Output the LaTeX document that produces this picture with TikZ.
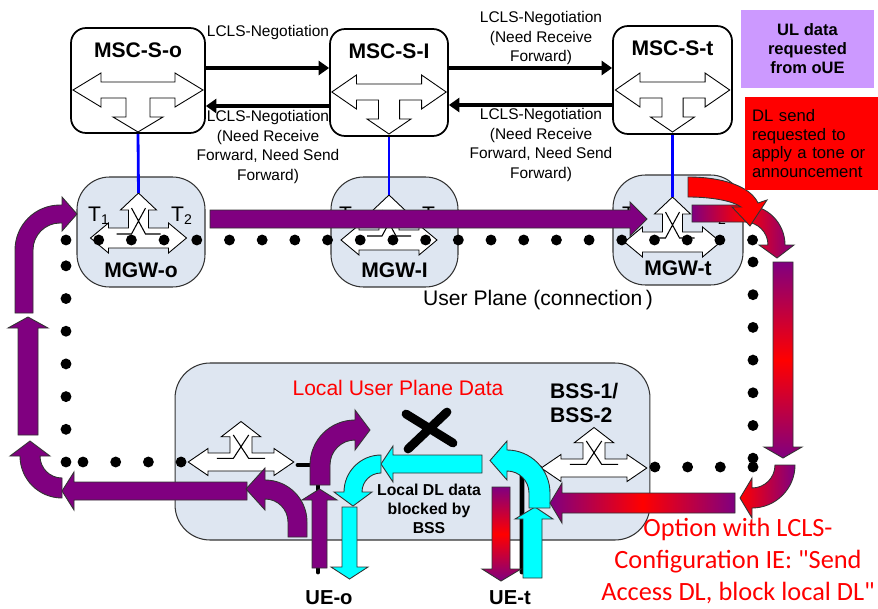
\documentclass[tikz,border=0pt]{standalone}
\usepackage{fontspec}
\setmainfont{Liberation Sans}
\newfontfamily\calibrifont{Carlito}
\usepackage{tikz}
\usetikzlibrary{positioning, calc, arrows.meta}
\definecolor{mgwfill}{RGB}{222,230,241}
\definecolor{upurple}{RGB}{128,0,128}
\definecolor{lilac}{RGB}{204,153,255}
\definecolor{dlcyan}{RGB}{0,255,255}
\definecolor{arrline}{RGB}{50,50,50}

\begin{document}
\begin{tikzpicture}[x=0.02cm, y=-0.02cm,
    mscbox/.style={rectangle, draw, line width=1pt, rounded corners=0.3cm, fill=white},
    mgwbox/.style={rectangle, draw=black!80, line width=0.6pt, rounded corners=0.65cm, fill=mgwfill},
    box_lbl/.style={font=\bfseries\fontsize{12}{14}\selectfont},
    neg_arrow/.style={-{Triangle[length=6pt,width=8pt]}, line width=2pt},
    neg_lbl/.style={font=\fontsize{8.8}{11.2}\selectfont, align=center, inner sep=0pt},
    ctrl_line/.style={blue, line width=1.6pt},
    upl_dots/.style={line width=6.2pt, line cap=round, dash pattern=on 0pt off 0.654cm},
    ue_line/.style={line width=2.8pt, line cap=round},
    t_lbl/.style={font=\fontsize{12}{14}\selectfont, inner sep=0pt},
    fat/.style={draw=arrline, line width=0.5pt},
    ul_arrow/.style={fat, fill=upurple},
    dl_arrow/.style={fat, fill=dlcyan},
    hgrad/.style={fat, left color=upurple, right color=upurple, middle color=red},
    vgrad/.style={fat, top color=upurple, bottom color=upurple, middle color=red},
    mscsw/.pic={
        \draw[fill=white, line width=0.5pt] (-65,0) -- (-37,-17) -- (-37,-8) -- (37,-8) -- (37,-17) -- (65,0) -- (37,17) -- (37,8) -- (12,8) -- (12,27) -- (25,27) -- (0,42) -- (-25,27) -- (-12,27) -- (-12,8) -- (-37,8) -- (-37,17) -- cycle;
    },
    mgwsw/.pic={
        \draw[fill=white, line width=0.5pt] (-48,0) -- (-30,-15) -- (-30,-10) -- (-10,-10) -- (-10,-28) -- (-18,-28) -- (0,-45) -- (18,-28) -- (10,-28) -- (10,-10) -- (30,-10) -- (30,-15) -- (48,0) -- (30,15) -- (30,10) -- (-30,10) -- (-30,15) -- cycle;
        \draw[line width=0.6pt] (-22,-4) -- (-7,-4) -- (7,-30) (22,-4) -- (7,-4) -- (-7,-30);
    }
]
    \useasboundingbox (0,0) rectangle (878,608);

    % Media gateways and BSS
    \node[mgwbox, minimum width=2.56cm, minimum height=2.2cm] (mgwo) at (141,232) {};
    \node[mgwbox, minimum width=2.54cm, minimum height=2.2cm] (mgwi) at (394.5,232) {};
    \node[mgwbox, minimum width=2.6cm, minimum height=2.2cm] (mgwt) at (678,230) {};
    \node[mgwbox, rounded corners=0.7cm, minimum width=9.5cm, minimum height=3.54cm] (bss) at (412.5,451.5) {};

    % Switches
    \pic at (138.5,238) {mgwsw};
    \pic at (389,240) {mgwsw};
    \pic at (672.5,242) {mgwsw};
    \pic[xscale=1.1, yscale=0.9] at (241,462) {mgwsw};
    \pic[xscale=1.1, yscale=0.9] at (594,468) {mgwsw};
    \coordinate (mgwotip) at (138.5,193);
    \coordinate (mgwitip) at (389,195);
    \coordinate (mgwttip) at (672.5,197);

    % UE connections
    \coordinate (bssl) at (298,465);
    \coordinate (bssr) at (540,468);
    \coordinate (ueo) at (318,572);
    \coordinate (uet) at (522,572);
    \draw[ue_line] (bssl) -- (ueo |- bssl) -- (ueo);
    \draw[ue_line] (bssr) -- (522,472) -- (uet);

    % User plane
    \draw[upl_dots] (66,240) -- (753.5,240);
    \draw[upl_dots] (66,462) -- (66,265.5);
    \draw[upl_dots] (753,262) -- (753,458.5);
    \draw[upl_dots] (753,467) -- (654.5,467);
    \draw[upl_dots] (83,462) -- (181.5,462);

    % Termination labels
    \node[t_lbl] (t1o) at (99,216) {T\textsubscript{1}};
    \node[t_lbl] (t2o) at (182,216) {T\textsubscript{2}};
    \node[t_lbl] (t1i) at (350,216) {T\textsubscript{1}};
    \node[t_lbl] (t2i) at (433,216) {T\textsubscript{2}};
    \node[t_lbl] (t1t) at (633,216) {T\textsubscript{1}};
    \node[t_lbl] (t2t) at (716,216) {T\textsubscript{2}};

    % MSC servers
    \node[mscbox, minimum width=2.68cm, minimum height=2.1cm] (msco) at (138,80.5) {};
    \node[mscbox, minimum width=2.36cm, minimum height=2.14cm] (msci) at (389,82.5) {};
    \node[mscbox, minimum width=2.38cm, minimum height=2.16cm] (msct) at (672.5,80) {};
    \pic at (138,90) {mscsw};
    \pic[xscale=0.88] at (389,92) {mscsw};
    \pic[xscale=0.88] at (672.5,90) {mscsw};
    \node[box_lbl, anchor=north] (mscolbl) at ([yshift=-5.4pt]msco.north) {MSC-S-o};
    \node[box_lbl, anchor=north] (mscilbl) at ([yshift=-5.4pt]msci.north) {MSC-S-I};
    \node[box_lbl, anchor=north] (msctlbl) at ([yshift=-5.4pt]msct.north) {MSC-S-t};

    % Control links
    \draw[ctrl_line] (msco.south) -- (mgwotip);
    \draw[ctrl_line] (msci.south) -- (mgwitip);
    \draw[ctrl_line] (msct.south) -- (mgwttip);

    % LCLS negotiation
    \draw[neg_arrow] (msco.east |- 0,68) -- (msci.west |- 0,68);
    \draw[neg_arrow] (msci.west |- 0,106) -- (msco.east |- 0,106);
    \draw[neg_arrow] (msci.east |- 0,68) -- (msct.west |- 0,68);
    \draw[neg_arrow] (msct.west |- 0,105) -- (msci.east |- 0,105);
    \node[neg_lbl] (neg1) at (268,33) {LCLS-Negotiation};
    \node[neg_lbl] (neg2) at (268,147) {LCLS-Negotiation\\(Need Receive\\Forward, Need Send\\Forward)};
    \node[neg_lbl] (neg3) at (541,38) {LCLS-Negotiation\\(Need Receive\\Forward)};
    \node[neg_lbl] (neg4) at (541,145) {LCLS-Negotiation\\(Need Receive\\Forward, Need Send\\Forward)};

    % Uplink (purple)
    \draw[ul_arrow] (210,210) -- (630,210) -- (630,202) -- (647,219) -- (630,236) -- (630,228) -- (210,228) -- cycle;
    \draw[ul_arrow] (15,313) -- (15,250) .. controls (15,225.1) and (35.1,205) .. (60,205) -- (62,205) -- (62,197) -- (77,214) -- (62,231) -- (62,223) -- (60,223) .. controls (45.1,223) and (33,235.1) .. (33,250) -- (33,313) -- cycle;
    \draw[ul_arrow] (18,435) -- (18,328) -- (8,328) -- (28,317) -- (48,328) -- (38,328) -- (38,435) -- cycle;
    \draw[ul_arrow] (247,482) -- (74,482) -- (74,472) -- (62,491) -- (74,510) -- (74,500) -- (247,500) -- cycle;
    \draw[ul_arrow] (62,498) .. controls (38.8,498) and (20,479.2) .. (20,456) -- (10,456) -- (30,441) -- (50,456) -- (40,456) .. controls (40,468.2) and (49.8,478) .. (62,478) -- cycle;
    \draw[ul_arrow] (307,537) -- (307,522) .. controls (307,498.8) and (288.2,480) .. (265,480) -- (265,468) -- (246,489) -- (265,510) -- (265,499) .. controls (277.7,499) and (288,509.3) .. (288,522) -- (288,537) -- cycle;
    \draw[ul_arrow] (312,568) -- (312,500) -- (302,500) -- (319.5,489) -- (337,500) -- (327,500) -- (327,568) -- cycle;
    \draw[ul_arrow] (310,485) -- (310,465) .. controls (310,440.1) and (330.1,420) .. (355,420) -- (355,410) -- (370,430) -- (355,450) -- (355,440) .. controls (341.2,440) and (330,451.2) .. (330,465) -- (330,485) -- cycle;

    % Local downlink (cyan)
    \draw[dl_arrow] (482,455) -- (393,455) -- (393,446) -- (381,464) -- (393,482) -- (393,473) -- (482,473) -- cycle;
    \draw[dl_arrow] (381,455) .. controls (360.6,455) and (344,471.6) .. (344,492) -- (334,492) -- (353,506) -- (372,492) -- (362,492) .. controls (362,481.5) and (370.5,473) .. (381,473) -- cycle;
    \draw[dl_arrow] (342,507) -- (342,567) -- (331,567) -- (349.5,579) -- (368,567) -- (357,567) -- (357,507) -- cycle;
    \draw[dl_arrow] (523,578) -- (523,519) -- (515,519) -- (535,507) -- (553,519) -- (542,519) -- (542,578) -- cycle;
    \draw[dl_arrow] (550,508) -- (550,493) .. controls (550,469.3) and (530.7,450) .. (507,450) -- (507,441) -- (490,460.5) -- (507,480) -- (507,471) .. controls (519.2,471) and (529,480.8) .. (529,493) -- (529,508) -- cycle;

    % Access downlink (gradient)
    \draw[hgrad] (692,205) -- (745,205) .. controls (767.1,205) and (785,222.9) .. (785,245) -- (794,245) -- (777,258) -- (759,245) -- (768,245) .. controls (768,232.3) and (757.7,222) .. (745,222) -- (692,222) -- cycle;
    \draw[vgrad] (773,262) -- (773,447) -- (764,447) -- (783,458) -- (802,447) -- (793,447) -- (793,262) -- cycle;
    \draw[fat, left color=red, right color=upurple] (775,465) .. controls (775,477.7) and (764.7,488) .. (752,488) -- (752,478) -- (740,498) -- (752,518) -- (752,508) .. controls (775.7,508) and (795,488.7) .. (795,465) -- cycle;
    \draw[hgrad] (735,493) -- (562,493) -- (562,483) -- (550,503) -- (562,523) -- (562,513) -- (735,513) -- cycle;
    \draw[vgrad] (492,487) -- (492,569) -- (482,569) -- (501,581) -- (521,569) -- (510,569) -- (510,487) -- cycle;

    % Tone / announcement
    \draw[fat, fill=red] (688,177) .. controls (722,177) and (750,186) .. (758,203) -- (767,200) -- (750,226) -- (732,207) -- (741,207) .. controls (733,201) and (712,197) .. (688,197) -- cycle;

    % Notes
    \node[fill=lilac, minimum width=2.66cm, minimum height=1.56cm, align=center, font=\bfseries\fontsize{9.4}{10.8}\selectfont] (ulreq) at (807.5,49) {UL data\\requested\\from oUE};
    \node[fill=red, text width=2.38cm, inner xsep=0.14cm, minimum height=1.86cm, align=left, font=\fontsize{9.5}{10.5}\selectfont] (dlreq) at (811.5,143.5) {DL send\\requested to\\apply a tone or\\announcement};

    % Labels
    \node[box_lbl, anchor=south] (mgwolbl) at ([yshift=2.3pt]mgwo.south) {MGW-o};
    \node[box_lbl, anchor=south] (mgwilbl) at ([yshift=2.3pt]mgwi.south) {MGW-I};
    \node[box_lbl, anchor=south] (mgwtlbl) at ([yshift=2.3pt]mgwt.south) {MGW-t};
    \node[font=\fontsize{12}{14}\selectfont] (upl) at (538,300) {User Plane (connection\,)};
    \node[box_lbl, anchor=west, align=left] (bsslbl) at (544,403) {BSS-1/\\BSS-2};
    \node[red, font=\fontsize{12}{14}\selectfont] (lupd) at (398,388) {Local User Plane Data};
    \draw[line width=5pt, line cap=round] (406,414) -- (453,443) (447,412) -- (408,449);
    \node[align=center, font=\bfseries\fontsize{9}{10.8}\selectfont] (blocked) at (429,509) {Local DL data\\blocked by\\BSS};
    \node[box_lbl, font=\bfseries\fontsize{11.5}{13}\selectfont] (ueolbl) at (329,598) {UE-o};
    \node[box_lbl, font=\bfseries\fontsize{11.5}{13}\selectfont] (uetlbl) at (510,598) {UE-t};
    \node[red, align=center, font=\calibrifont\fontsize{15}{18}\selectfont] (option) at (738,561) {Option with LCLS-\\Configuration IE: "Send\\Access DL, block local DL"};
\end{tikzpicture}
\end{document}
